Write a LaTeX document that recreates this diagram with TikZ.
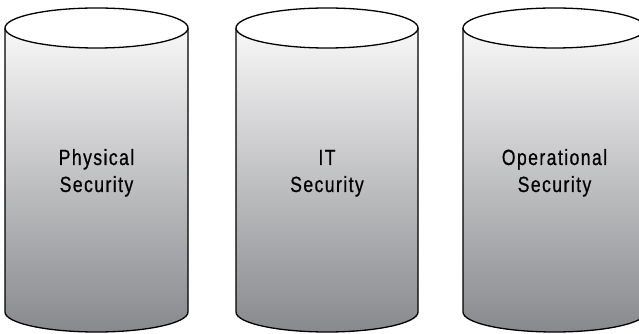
\documentclass[tikz,border=0pt]{standalone}
\usepackage{fontspec}
\setmainfont{Liberation Sans}[FakeStretch=0.8,LetterSpace=6.5,FakeBold=0.6]
\definecolor{drumbase}{RGB}{136,137,141}
\tikzset{
  drumbody/.style={top color=white, bottom color=drumbase},
  drumline/.style={draw=black, line width=1.3pt},
  drumlabel/.style={anchor=base, inner sep=0pt, text=black,
    font=\fontsize{22}{27}\selectfont}
}
\begin{document}
\begin{tikzpicture}[x=1pt,y=1pt]
\useasboundingbox[fill=white] (0,0) rectangle (639,334);
% three storage drums: centre x / radius x / node name / two text lines
\foreach \cx/\rx/\nm/\la/\lb in {96.5/91.5/phys/Physical/Security,
                                 327/91/it/IT/Security,
                                 554.5/91.5/ops/Operational/Security}{
  \shade[drumbody] (\cx-\rx,306) -- (\cx-\rx,22)
     arc[start angle=180, end angle=360, x radius=\rx, y radius=20]
     -- (\cx+\rx,306)
     arc[start angle=0, end angle=180, x radius=\rx, y radius=20] -- cycle;
  \draw[drumline] (\cx-\rx,306) -- (\cx-\rx,22)
     arc[start angle=180, end angle=360, x radius=\rx, y radius=20]
     -- (\cx+\rx,306);
  \draw[drumline, fill=white] (\cx,306) ellipse[x radius=\rx, y radius=20];
  \node[drumlabel] (\nm-top) at (\cx,169) {\la};
  \node[drumlabel] (\nm-bot) at (\cx,142) {\lb};
}
\end{tikzpicture}
\end{document}
